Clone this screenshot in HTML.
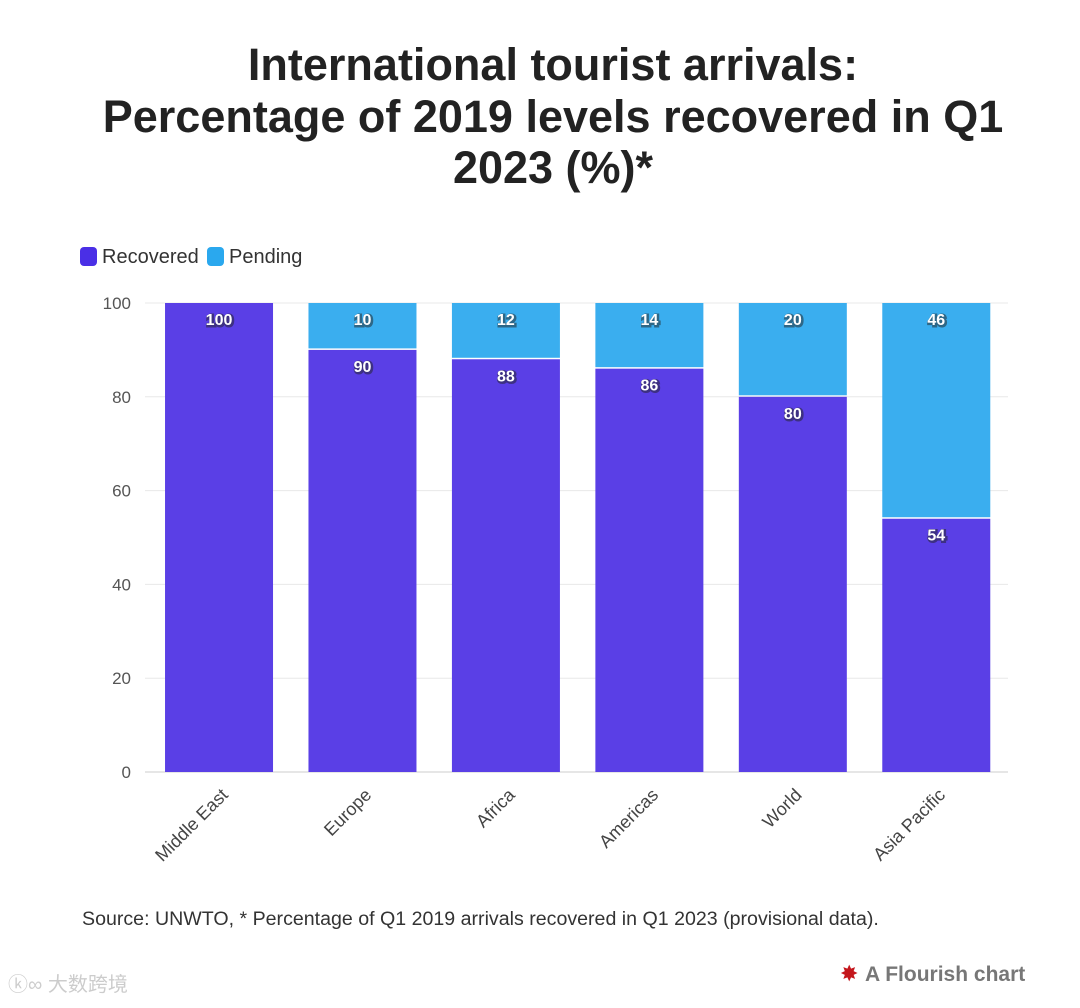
<!DOCTYPE html>
<html><head><meta charset="utf-8">
<style>
body{margin:0;background:#fff;width:1080px;height:1003px;overflow:hidden;font-family:"Liberation Sans","Noto Sans CJK SC",sans-serif;}
</style></head>
<body>
<svg id="chart" width="1080" height="1003" xmlns="http://www.w3.org/2000/svg">
<g font-weight="bold" font-size="45" fill="#222" text-anchor="middle">
<text x="553" y="80">International tourist arrivals:</text>
<text x="553" y="132">Percentage of 2019 levels recovered in Q1</text>
<text x="553" y="183">2023 (%)*</text>
</g>
<g font-size="20" fill="#333">
<rect x="80" y="247" width="17" height="19" rx="4" fill="#4a2fe6"/>
<text x="102" y="263">Recovered</text>
<rect x="207" y="247" width="17" height="19" rx="4" fill="#2aa8ee"/>
<text x="229" y="263">Pending</text>
</g>
<g id="plot"></g>
<text x="82" y="925" font-size="19.6" fill="#333">Source: UNWTO, * Percentage of Q1 2019 arrivals recovered in Q1 2023 (provisional data).</text>
<g>
<text x="840" y="981" font-size="22" fill="#c4161c">✸</text>
<text x="865" y="981" font-size="21" font-weight="bold" fill="#777">A Flourish chart</text>
</g>
<text x="8" y="991" font-size="20" fill="#ccc">ⓚ∞ 大数跨境</text>
</svg>
<script>
const categories=["Middle East","Europe","Africa","Americas","World","Asia Pacific"];
const recovered=[100,90,88,86,80,54];
const pending=[0,10,12,14,20,46];
const yTicks=[0,20,40,60,80,100];
(function(){
const NS="http://www.w3.org/2000/svg";
const plot=document.getElementById('plot');
const pLeft=147.3,pRight=1008,pTop=303,pBottom=772;
const band=(pRight-pLeft)/categories.length,bw=108;
const y=v=>pBottom-(v/100)*(pBottom-pTop);
const x=i=>pLeft+band*i+band/2;
function mk(t,a){const e=document.createElementNS(NS,t);for(const k in a)e.setAttribute(k,a[k]);plot.appendChild(e);return e;}
yTicks.forEach(t=>{
 const l=mk('line',{x1:145,x2:1008,y1:y(t),y2:y(t),stroke:t===0?'#ccc':'#e8e8e8'});
 
 
 const tx=mk('text',{x:131,y:y(t)+6,'text-anchor':'end','font-size':17,fill:'#555'});
 tx.textContent=t;
 
 
});
function label(v,cx,cy,name){
 const s=mk('text',{x:cx+1,y:cy+1,'text-anchor':'middle','font-size':16,'font-weight':'bold',fill:'#222',stroke:'#222','stroke-width':3,opacity:0.5});
 s.textContent=v;
 
 
 const t=mk('text',{x:cx,y:cy,'text-anchor':'middle','font-size':16,'font-weight':'bold',fill:'#fff'});
 t.textContent=v;
 
 
}
categories.forEach((c,i)=>{
 const cx=x(i);
 const r=mk('rect',{x:cx-bw/2,y:y(recovered[i]),width:bw,height:pBottom-y(recovered[i]),fill:'#5a3fe6'});
 
 
 label(recovered[i],cx,y(recovered[i])+22,'value-recovered-'+i);
 if(pending[i]>0){
  const p=mk('rect',{x:cx-bw/2,y:y(recovered[i]+pending[i]),width:bw,height:y(recovered[i])-y(recovered[i]+pending[i])-1.5,fill:'#3aaeef'});
  
  
  label(pending[i],cx,y(recovered[i]+pending[i])+22,'value-pending-'+i);
 }
 const xl=mk('text',{x:cx+10,y:796,'text-anchor':'end','font-size':18,fill:'#444',transform:`rotate(-45 ${cx+10} 796)`});
 xl.textContent=c;
 
 
});
})();
</script>
</body></html>
